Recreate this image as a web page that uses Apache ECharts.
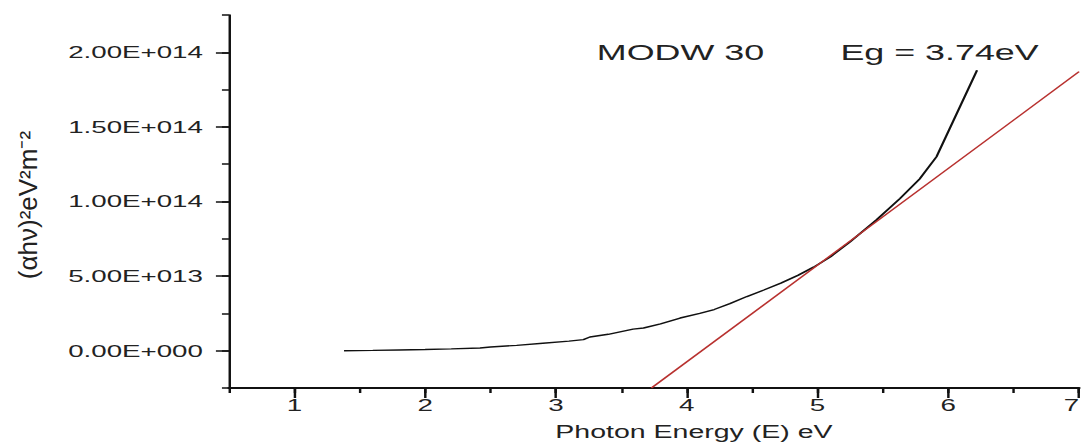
<!DOCTYPE html>
<html>
<head>
<meta charset="utf-8">
<script src="https://cdn.jsdelivr.net/npm/echarts@6/dist/echarts.min.js"></script>
<style>
  html, body { margin: 0; padding: 0; background: #fff; overflow: hidden; }
  #chart { width: 664px; height: 448px; transform: scaleX(1.6295); transform-origin: 0 0; }
</style>
</head>
<body>
<div id="chart"></div>
<script>
// Photon energy (eV)
const energy = [1.38, 1.6, 1.8, 2.0, 2.2, 2.42, 2.5, 2.7, 2.9, 3.1, 3.21, 3.26, 3.4, 3.59, 3.67, 3.8, 3.95, 4.1, 4.21, 4.33, 4.46, 4.59, 4.72, 4.85, 4.97, 5.1, 5.25, 5.45, 5.63, 5.78, 5.91, 6.22];
// (alpha h nu)^2 values
const absorption = [0, 0.02e13, 0.05e13, 0.08e13, 0.12e13, 0.18e13, 0.25e13, 0.36e13, 0.5e13, 0.64e13, 0.74e13, 0.92e13, 1.1e13, 1.45e13, 1.52e13, 1.8e13, 2.19e13, 2.5e13, 2.76e13, 3.15e13, 3.63e13, 4.07e13, 4.53e13, 5.05e13, 5.6e13, 6.3e13, 7.3e13, 8.76e13, 10.2e13, 11.5e13, 13.0e13, 18.8e13];
// Linear fit (Tauc extrapolation)
const fitEnergy = [3.73, 7.0];
const fitValue = [-2.5e13, 1.87e14];
// Ticks
const xTickValues = [1, 2, 3, 4, 5, 6, 7];
const yTickValues = [0, 5e13, 1e14, 1.5e14, 2e14];
const yTickLabels = ['0.00E+000', '5.00E+013', '1.00E+014', '1.50E+014', '2.00E+014'];
// Texts
const xTitle = 'Photon Energy (E) eV';
const yTitle = '(αhν)²eV²m⁻²';
const sampleLabel = 'MODW 30';
const gapLabel = 'Eg = 3.74eV';

const FONT = '"Liberation Sans", Arial, sans-serif';

const chart = echarts.init(document.getElementById('chart'), null, { renderer: 'svg' });

const baseX = { type: 'value', min: 0.5, max: 7, interval: 0.5, position: 'bottom', splitLine: { show: false } };
const baseY = { type: 'value', min: -2.5e13, max: 2.25e14, interval: 2.5e13, position: 'left', splitLine: { show: false } };

chart.setOption({
  animation: false,
  backgroundColor: '#ffffff',
  grid: { left: 140.5, right: 1.8, top: 15, bottom: 60, containLabel: false, outerBoundsMode: 'none' },
  xAxis: [
    Object.assign({}, baseX, {
      axisLine: { show: true, onZero: false, lineStyle: { color: '#111', width: 2 } },
      axisTick: { show: true, length: 10, customValues: xTickValues, lineStyle: { color: '#111', width: 1.5 } },
      axisLabel: { show: true, customValues: xTickValues, margin: 9, fontSize: 17, color: '#222', fontFamily: FONT, alignMaxLabel: 'right' },
      name: xTitle, nameLocation: 'middle', nameGap: 35,
      nameTextStyle: { fontSize: 17.5, color: '#222', fontFamily: FONT, padding: [0, 0, 0, 49] }
    }),
    Object.assign({}, baseX, {
      axisLine: { show: false, onZero: false },
      axisTick: { show: true, length: 5, lineStyle: { color: '#111', width: 1.5 } },
      axisLabel: { show: false }
    })
  ],
  yAxis: [
    Object.assign({}, baseY, {
      axisLine: { show: true, onZero: false, lineStyle: { color: '#111', width: 1.5 } },
      axisTick: { show: true, length: 8, customValues: yTickValues, lineStyle: { color: '#111', width: 1.5 } },
      axisLabel: {
        show: true, customValues: yTickValues, margin: 16, fontSize: 17, color: '#222', fontFamily: FONT,
        formatter: function (v) { const i = yTickValues.indexOf(v); return i >= 0 ? yTickLabels[i] : ''; }
      }
    }),
    Object.assign({}, baseY, {
      axisLine: { show: false, onZero: false },
      axisTick: { show: true, length: 4.3, lineStyle: { color: '#111', width: 1.5 } },
      axisLabel: { show: false }
    })
  ],
  graphic: [
    {
      type: 'text', x: 17.5, y: 205, rotation: Math.PI / 2, scaleY: 0.6,
      style: { text: yTitle, fill: '#222', fontSize: 26, fontFamily: FONT, align: 'center', verticalAlign: 'middle' }
    },
    {
      type: 'text', x: 417.6, y: 52,
      style: { text: sampleLabel, fill: '#222', fontSize: 22, fontFamily: FONT, align: 'center', verticalAlign: 'middle' }
    },
    {
      type: 'text', x: 576.6, y: 52,
      style: { text: gapLabel, fill: '#222', fontSize: 22, fontFamily: FONT, align: 'center', verticalAlign: 'middle' }
    }
  ],
  series: [
    {
      type: 'line', name: 'MODW 30', xAxisIndex: 0, yAxisIndex: 0,
      data: energy.map((e, i) => [e, absorption[i]]),
      showSymbol: false, smooth: false,
      lineStyle: { color: '#111', width: 1.4 }
    },
    {
      type: 'line', name: 'fit', xAxisIndex: 0, yAxisIndex: 0,
      data: fitEnergy.map((e, i) => [e, fitValue[i]]),
      showSymbol: false,
      lineStyle: { color: '#b8312f', width: 1.2 }
    }
  ]
});
</script>
</body>
</html>
